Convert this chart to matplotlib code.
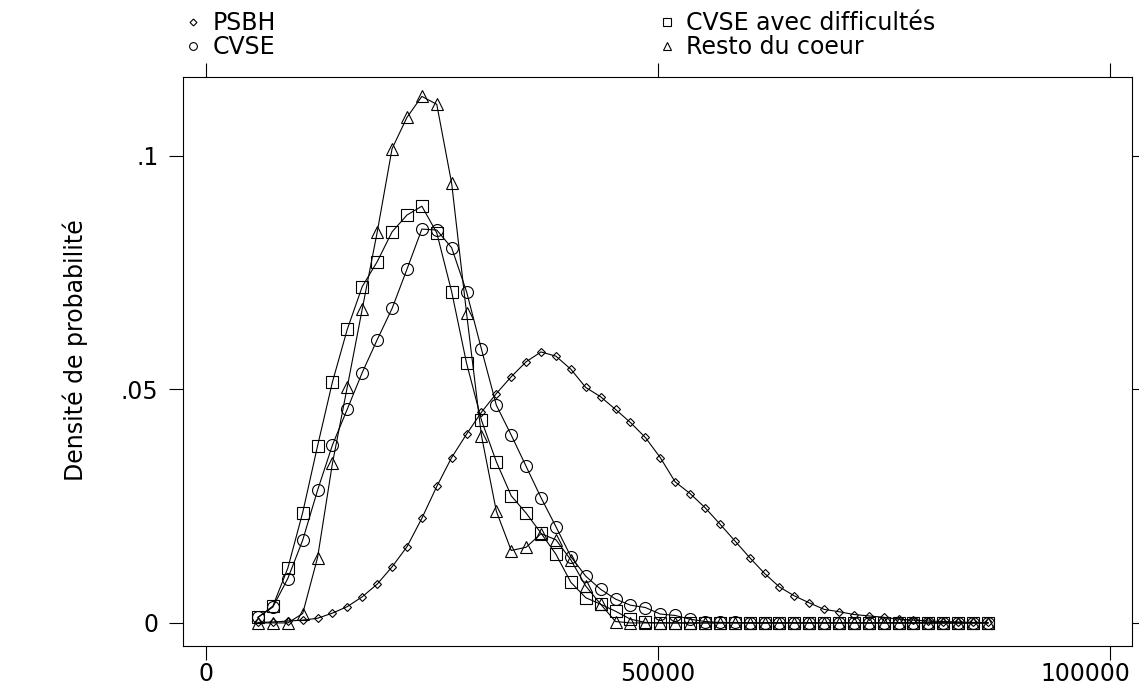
import matplotlib
matplotlib.use("Agg")
import matplotlib.pyplot as plt
import matplotlib.transforms as mtransforms
from matplotlib.lines import Line2D

plt.rcParams['font.family'] = ['DejaVu Sans']

# income grid (50 points)
revenu = [5750, 7398, 9046, 10694, 12342, 13990, 15638, 17286, 18934, 20582,
          22230, 23878, 25526, 27174, 28822, 30470, 32118, 33766, 35414, 37062,
          38710, 40358, 42006, 43654, 45302, 46950, 48598, 50246, 51894, 53542,
          55190, 56838, 58486, 60134, 61782, 63430, 65078, 66726, 68374, 70022,
          71670, 73318, 74966, 76614, 78262, 79910, 81558, 83206, 84854, 86502]

psbh = [0.0001, 0.0002, 0.0004, 0.0006, 0.0010, 0.0021, 0.0035, 0.0056, 0.0083, 0.0120,
        0.0163, 0.0224, 0.0292, 0.0354, 0.0404, 0.0451, 0.0491, 0.0527, 0.0559, 0.0580,
        0.0571, 0.0543, 0.0504, 0.0484, 0.0457, 0.0429, 0.0397, 0.0354, 0.0302, 0.0277,
        0.0247, 0.0212, 0.0176, 0.0140, 0.0106, 0.0077, 0.0058, 0.0043, 0.0029, 0.0024,
        0.0018, 0.0015, 0.0012, 0.0008, 0.0006, 0.0004, 0.0003, 0.0002, 0.0001, 0.0001]

cvse = [0.0012, 0.0034, 0.0095, 0.0177, 0.0284, 0.0381, 0.0458, 0.0536, 0.0606, 0.0673,
        0.0757, 0.0843, 0.0841, 0.0803, 0.0709, 0.0586, 0.0466, 0.0402, 0.0335, 0.0268,
        0.0206, 0.0142, 0.0100, 0.0072, 0.0051, 0.0038, 0.0033, 0.0019, 0.0016, 0.0008,
        0.0003, 0.0001, 0.0001, 0.0, 0.0, 0.0, 0.0, 0.0, 0.0, 0.0,
        0.0, 0.0, 0.0, 0.0, 0.0, 0.0, 0.0, 0.0, 0.0, 0.0]

cvse_diff = [0.0012, 0.0036, 0.0117, 0.0236, 0.0379, 0.0516, 0.0629, 0.0720, 0.0773, 0.0837,
             0.0873, 0.0892, 0.0835, 0.0709, 0.0556, 0.0434, 0.0345, 0.0272, 0.0235, 0.0192,
             0.0147, 0.0087, 0.0054, 0.0040, 0.0025, 0.0008, 0.0001, 0.0, 0.0, 0.0,
             0.0, 0.0, 0.0, 0.0, 0.0, 0.0, 0.0, 0.0, 0.0, 0.0,
             0.0, 0.0, 0.0, 0.0, 0.0, 0.0, 0.0, 0.0, 0.0, 0.0]

resto = [0.0, 0.0, 0.0, 0.0020, 0.0140, 0.0342, 0.0506, 0.0672, 0.0836, 0.1015,
         0.1082, 0.1127, 0.1110, 0.0941, 0.0663, 0.0401, 0.0239, 0.0155, 0.0162, 0.0191,
         0.0178, 0.0135, 0.0079, 0.0040, 0.0003, 0.0, 0.0, 0.0, 0.0, 0.0,
         0.0, 0.0, 0.0, 0.0, 0.0, 0.0, 0.0, 0.0, 0.0, 0.0,
         0.0, 0.0, 0.0, 0.0, 0.0, 0.0, 0.0, 0.0, 0.0, 0.0]

xticks = [0, 50000, 100000]
xticklabels = ['0', '50000', '100000']
yticks = [0, 0.05, 0.1]
yticklabels = ['0', '.05', '.1']

fs = 17

fig = plt.figure(figsize=(11.39, 6.86), dpi=100)
ax = fig.add_axes([183.3 / 1139, 1 - 646 / 686, (1132 - 183.3) / 1139, (646 - 77) / 686])

lw = 0.8
ax.plot(revenu, psbh, color='black', lw=lw, marker='D', ms=3.6, mfc='none', mec='black', mew=0.8)
ax.plot(revenu, cvse, color='black', lw=lw, marker='o', ms=8.6, mfc='none', mec='black', mew=0.8)
ax.plot(revenu, cvse_diff, color='black', lw=lw, marker='s', ms=8.6, mfc='none', mec='black', mew=0.8)
ax.plot(revenu, resto, color='black', lw=lw, marker='^', ms=8.6, mfc='none', mec='black', mew=0.8)

ax.set_xlim(-2511, 102434)
ax.set_ylim(-0.00494, 0.11685)
ax.set_xticks(xticks)
ax.set_xticklabels(xticklabels)
ax.set_yticks(yticks)
ax.set_yticklabels(yticklabels)
ax.tick_params(axis='both', direction='out', length=10, width=0.8, labelsize=fs, color='black')
ax.tick_params(axis='x', top=True, pad=1.5)
ax.tick_params(axis='y', right=True, pad=8)
for sp in ax.spines.values():
    sp.set_linewidth(0.8)

# last x label is pulled inside the figure, as in the original
last = ax.get_xticklabels()[-1]
last.set_ha('right')
last.set_transform(last.get_transform() + mtransforms.ScaledTranslation(0.2, 0, fig.dpi_scale_trans))

fig.text(75 / 1139, 1 - 350 / 686, 'Densité de probabilité', rotation=90,
         ha='center', va='center', fontsize=fs)

# legend in two columns above the plot
kw = dict(ls='none', mfc='none', mec='black', mew=0.8)
h1 = [Line2D([], [], marker='D', ms=3.5, **kw), Line2D([], [], marker='o', ms=5.6, **kw)]
h2 = [Line2D([], [], marker='s', ms=6, **kw), Line2D([], [], marker='^', ms=6, **kw)]
lkw = dict(loc='upper left', frameon=False, fontsize=fs, handlelength=1.0, handletextpad=0.33,
           labelspacing=0.02, borderpad=0, borderaxespad=0)
leg1 = fig.legend(h1, ['PSBH', 'CVSE'], bbox_to_anchor=(181 / 1139, 1 - 11 / 686), **lkw)
leg2 = fig.legend(h2, ['CVSE avec difficultés', 'Resto du coeur'],
                  bbox_to_anchor=(655 / 1139, 1 - 11 / 686), **lkw)

fig.savefig('out.png', dpi=100)
